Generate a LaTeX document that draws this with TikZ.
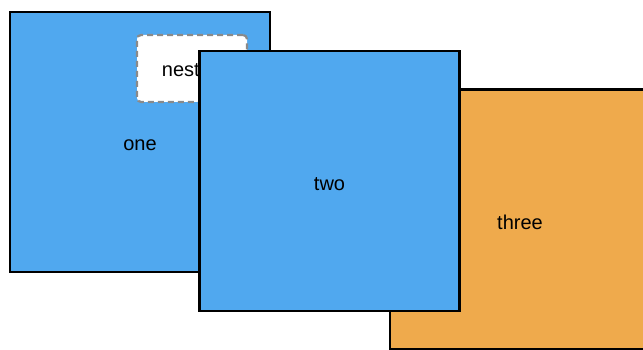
\documentclass[tikz,border=0pt]{standalone}
\usepackage{fontspec}
\setmainfont{Liberation Sans}
\definecolor{boxblue}{HTML}{50A8EF}
\definecolor{boxorange}{HTML}{EFAA4C}
\definecolor{dashgray}{HTML}{8A8A8A}
\newcommand{\lowered}[2]{\raisebox{-#1}[\height][\depth]{#2}}
\tikzset{
  bigbox/.style={draw=black, line width=2.2pt, minimum width=260pt, minimum height=260pt, inner sep=0pt, font=\fontsize{20}{24}\selectfont},
  nestbox/.style={draw=dashgray, fill=white, line width=2.2pt, dash pattern=on 6pt off 4pt, rounded corners=4pt, minimum width=110pt, minimum height=67pt, inner sep=0pt, font=\fontsize{20}{24}\selectfont}
}
\begin{document}
\begin{tikzpicture}[x=1pt,y=-1pt]
\useasboundingbox (0,0) rectangle (643,350);
\clip (0,0) rectangle (643,350);
\node[bigbox, fill=boxblue] (one) at (140,142) {\lowered{3pt}{one}};
\node[nestbox] (nested) at (192,68.5) {\lowered{1pt}{nested}};
\node[bigbox, fill=boxorange] (three) at (520,219.5) {\lowered{3pt}{three}};
\node[bigbox, fill=boxblue] (two) at (329.5,181) {\lowered{3pt}{two}};
\end{tikzpicture}
\end{document}
